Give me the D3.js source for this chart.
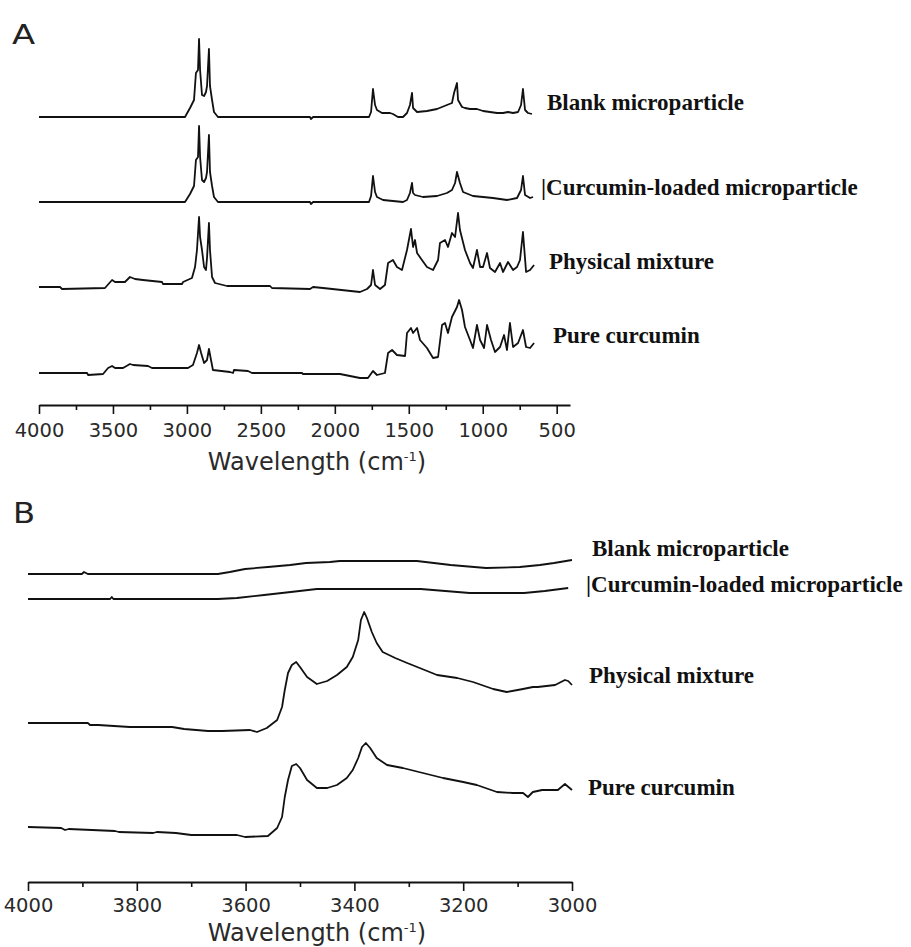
<!DOCTYPE html>
<html>
<head>
<meta charset="utf-8">
<script src="https://cdn.jsdelivr.net/npm/d3@7"></script>
<style>
  html, body { margin: 0; padding: 0; background: #fff; }
  svg { display: block; }
</style>
</head>
<body>
<div id="chart"></div>
<script>
// ── DATA: panel A (full range) ───────────────
// [wavenumber cm-1, relative intensity a.u.]
const blankA = [
  [4000,0],[3013,0],[2979,9],[2952,17],[2939,44],[2925,47],[2918,78],[2911,47],[2898,22],
  [2884,21],[2871,25],[2864,31],[2851,68],[2844,31],[2830,17],[2817,5],[2790,0],[2168,0],
  [2161,-2],[2147,0],[1769,0],[1755,5],[1742,28],[1728,12],[1715,7],[1681,4],[1627,4],
  [1607,3],[1573,0],[1539,0],[1512,4],[1492,12],[1478,24],[1471,9],[1444,5],[1377,6],
  [1309,8],[1242,12],[1208,14],[1194,24],[1174,34],[1167,17],[1140,10],[1120,9],[1086,8],
  [1039,8],[998,6],[951,5],[903,4],[863,4],[829,5],[795,4],[761,5],[741,12],[728,28],
  [714,7],[694,4],[667,3]
];
const loadedA = [
  [4000,0],[3013,0],[2979,8],[2952,16],[2939,42],[2925,45],[2918,76],[2911,45],[2898,22],
  [2884,20],[2871,24],[2864,30],[2851,67],[2844,30],[2830,16],[2817,5],[2790,0],[2168,0],
  [2161,-2],[2147,0],[1769,0],[1755,6],[1742,26],[1728,10],[1715,5],[1674,2],[1607,1],
  [1539,0],[1512,2],[1492,9],[1478,19],[1471,9],[1458,7],[1404,5],[1309,6],[1242,9],
  [1208,12],[1187,19],[1174,30],[1154,19],[1133,10],[1066,6],[998,5],[931,4],[836,2],
  [768,4],[741,12],[728,26],[714,7],[680,4],[660,5]
];
const mixtureA = [
  [4000,0],[3858,0],[3844,-2],[3554,-1],[3506,7],[3486,5],[3419,5],[3385,10],[3351,8],
  [3297,7],[3168,5],[3162,3],[3033,3],[3026,5],[2966,9],[2945,20],[2932,37],[2918,70],
  [2911,50],[2898,37],[2884,20],[2871,17],[2864,29],[2851,64],[2844,37],[2830,10],[2810,4],
  [2729,1],[2438,1],[2425,-1],[2168,-2],[2147,0],[2080,-1],[1830,-5],[1782,-2],[1755,2],
  [1742,17],[1728,2],[1694,-2],[1661,2],[1640,24],[1607,27],[1580,20],[1546,17],[1512,37],
  [1485,58],[1471,40],[1458,47],[1444,34],[1411,27],[1377,20],[1336,17],[1302,27],[1289,44],
  [1255,47],[1235,40],[1208,54],[1187,50],[1167,74],[1154,57],[1120,37],[1086,24],[1066,19],
  [1039,37],[1018,20],[998,20],[971,34],[951,19],[917,15],[883,24],[863,15],[829,25],
  [795,17],[768,20],[748,27],[728,55],[707,15],[680,17],[653,22]
];
const pureA = [
  [4000,0],[3675,0],[3668,-2],[3567,-1],[3533,5],[3506,7],[3486,5],[3432,5],[3385,9],
  [3364,8],[3263,7],[3236,5],[2993,5],[2959,8],[2932,20],[2918,28],[2904,20],[2884,10],
  [2864,13],[2851,24],[2837,13],[2824,3],[2709,1],[2688,0],[2682,3],[2587,2],[2560,0],
  [2222,0],[2215,-1],[1965,-1],[1830,-5],[1776,-5],[1742,2],[1715,-2],[1661,0],[1640,20],
  [1613,23],[1580,18],[1525,17],[1512,40],[1485,45],[1471,40],[1444,45],[1424,33],[1377,25],
  [1336,15],[1302,16],[1275,48],[1255,50],[1235,40],[1208,56],[1174,66],[1160,73],[1140,63],
  [1120,46],[1086,33],[1066,25],[1039,48],[1018,33],[991,25],[971,48],[944,33],[917,21],
  [883,26],[856,38],[836,23],[816,50],[795,26],[761,30],[728,43],[707,26],[680,25],[653,30]
];

// ── DATA: panel B (OH region) ────────────────
const blankB = [
  [4000,0],[3901,0],[3897,2],[3890,0],[3735,0],[3651,0],[3629,2],[3601,5],[3559,7],
  [3518,9],[3489,11],[3445,12],[3427,13],[3285,13],[3223,9],[3158,6],[3096,7],[3059,9],
  [3033,11],[3000,14]
];
const loadedB = [
  [4000,0],[3849,0],[3846,2],[3843,0],[3651,0],[3616,1],[3566,4],[3517,7],[3469,10],
  [3278,10],[3188,6],[3088,6],[3050,8],[3007,11]
];
const mixtureB = [
  [4000,7],[3890,7],[3886,5],[3871,5],[3813,3],[3735,3],[3713,1],[3669,-1],[3643,-1],
  [3592,0],[3579,-2],[3561,2],[3542,10],[3533,23],[3528,40],[3522,57],[3515,65],[3507,68],
  [3500,63],[3487,53],[3469,46],[3450,49],[3432,55],[3414,63],[3403,73],[3393,90],[3388,110],
  [3382,118],[3377,112],[3368,98],[3359,87],[3348,78],[3325,72],[3303,67],[3280,62],
  [3248,55],[3211,52],[3182,48],[3145,41],[3120,38],[3090,41],[3072,43],[3063,43],
  [3031,45],[3013,50],[3007,49],[3000,45]
];
const pureB = [
  [4000,10],[3939,9],[3932,7],[3925,8],[3840,6],[3833,5],[3770,4],[3763,5],[3728,4],
  [3700,2],[3616,2],[3601,0],[3559,1],[3542,9],[3533,20],[3528,40],[3522,57],[3515,71],
  [3507,73],[3500,69],[3487,57],[3469,49],[3450,49],[3432,52],[3414,59],[3403,67],[3393,79],
  [3386,90],[3379,94],[3371,89],[3359,79],[3340,72],[3311,69],[3274,64],[3237,59],[3200,55],
  [3175,52],[3138,45],[3109,44],[3090,44],[3081,40],[3072,45],[3055,47],[3026,47],[3013,53],
  [3000,47]
];

// stacking offsets (a.u.) and series names
const offsetsA = [288, 203, 118, 32];
const offsetsB = [308, 283, 152, 45];
const seriesNames = ['Blank microparticle', 'Curcumin-loaded microparticle', 'Physical mixture', 'Pure curcumin'];

// axis ticks
const majorA = [4000, 3500, 3000, 2500, 2000, 1500, 1000, 500];
const minorA = [3750, 3250, 2750, 2250, 1750, 1250, 750];
const majorB = [4000, 3800, 3600, 3400, 3200, 3000];
const minorB = [3900, 3700, 3500, 3300, 3100];

// ── LAYOUT ───────────────────────────────────
const W = 911, H = 947;
const FONT_AX = '"DejaVu Sans", Verdana, sans-serif';
const FONT_LBL = '"Liberation Serif", "Times New Roman", serif';

const svg = d3.select('#chart').append('svg')
  .attr('width', W).attr('height', H)
  .attr('viewBox', `0 0 ${W} ${H}`);

svg.append('rect').attr('width', W).attr('height', H).attr('fill', '#fff');

const line = (x, y, off) => d3.line()
  .x(d => x(d[0]))
  .y(d => y(d[1] + off));

// ── PANEL DRAWER ─────────────────────────────
function drawPanel(cfg) {
  const { x, y, axisY, series, offsets, major, minor, labels, letter, tickBase, titleY } = cfg;
  const g = svg.append('g');

  // traces
  series.forEach((s, i) => {
    g.append('path')
      .datum(s)
      .attr('d', line(x, y, offsets[i]))
      .attr('fill', 'none')
      .attr('stroke', '#111')
      .attr('stroke-width', 1.8)
      .attr('stroke-linejoin', 'round');
  });

  // axis: major
  const ax = g.append('g')
    .attr('transform', `translate(0,${axisY})`)
    .call(d3.axisBottom(x).tickValues(major).tickSize(9).tickSizeOuter(0).tickFormat(d3.format('d')));
  ax.select('.domain').attr('stroke', '#111').attr('stroke-width', 2);
  ax.selectAll('.tick line').attr('stroke', '#111').attr('stroke-width', 1.6);
  ax.selectAll('.tick text')
    .attr('y', tickBase).attr('dy', null)
    .attr('fill', '#2a2a2a')
    .style('font-family', FONT_AX)
    .style('font-size', '19.5px');

  // axis: minor
  const axm = g.append('g')
    .attr('transform', `translate(0,${axisY})`)
    .call(d3.axisBottom(x).tickValues(minor).tickSize(5).tickSizeOuter(0).tickFormat(''));
  axm.select('.domain').remove();
  axm.selectAll('.tick line').attr('stroke', '#111').attr('stroke-width', 1.6);

  // axis title
  const t = g.append('text')
    .attr('x', 317).attr('y', titleY)
    .attr('text-anchor', 'middle')
    .attr('fill', '#2a2a2a')
    .style('font-family', FONT_AX)
    .style('font-size', '24px');
  t.append('tspan').text('Wavelength (cm');
  t.append('tspan').attr('dy', -9).style('font-size', '13px').text('-1');
  t.append('tspan').attr('dy', 9).text(')');

  // panel letter
  g.append('text')
    .attr('transform', `translate(${letter.x},${letter.y}) scale(${letter.sx},1)`)
    .attr('fill', '#222')
    .style('font-family', FONT_AX)
    .style('font-size', letter.size + 'px')
    .text(letter.text);

  // series labels
  labels.forEach((l, i) => {
    g.append('text')
      .attr('x', l.x).attr('y', l.y)
      .attr('fill', '#111')
      .style('font-family', FONT_LBL)
      .style('font-weight', 'bold')
      .style('font-size', '23px')
      .text((l.bar ? '|' : '') + seriesNames[i]);
  });
}

// ── PANEL A ──────────────────────────────────
const xA = d3.scaleLinear().domain([4000, 410]).range([39, 570]);
const yA = d3.scaleLinear().domain([0, 380]).range([405, 25]);

drawPanel({
  x: xA, y: yA, axisY: 405,
  series: [blankA, loadedA, mixtureA, pureA],
  offsets: offsetsA,
  major: majorA, minor: minorA,
  tickBase: 32, titleY: 470,
  letter: { text: 'A', x: 12, y: 44, size: 27, sx: 1.25 },
  labels: [
    { x: 547, y: 110 },
    { x: 541, y: 195, bar: true },
    { x: 549, y: 269 },
    { x: 553, y: 343 }
  ]
});

// ── PANEL B ──────────────────────────────────
const xB = d3.scaleLinear().domain([4000, 3000]).range([28, 572]);
const yB = d3.scaleLinear().domain([0, 360]).range([882, 522]);

drawPanel({
  x: xB, y: yB, axisY: 882,
  series: [blankB, loadedB, mixtureB, pureB],
  offsets: offsetsB,
  major: majorB, minor: minorB,
  tickBase: 30, titleY: 941,
  letter: { text: 'B', x: 13, y: 523, size: 28, sx: 1.15 },
  labels: [
    { x: 592, y: 556 },
    { x: 586, y: 592, bar: true },
    { x: 589, y: 683 },
    { x: 588, y: 795 }
  ]
});
</script>
</body>
</html>
